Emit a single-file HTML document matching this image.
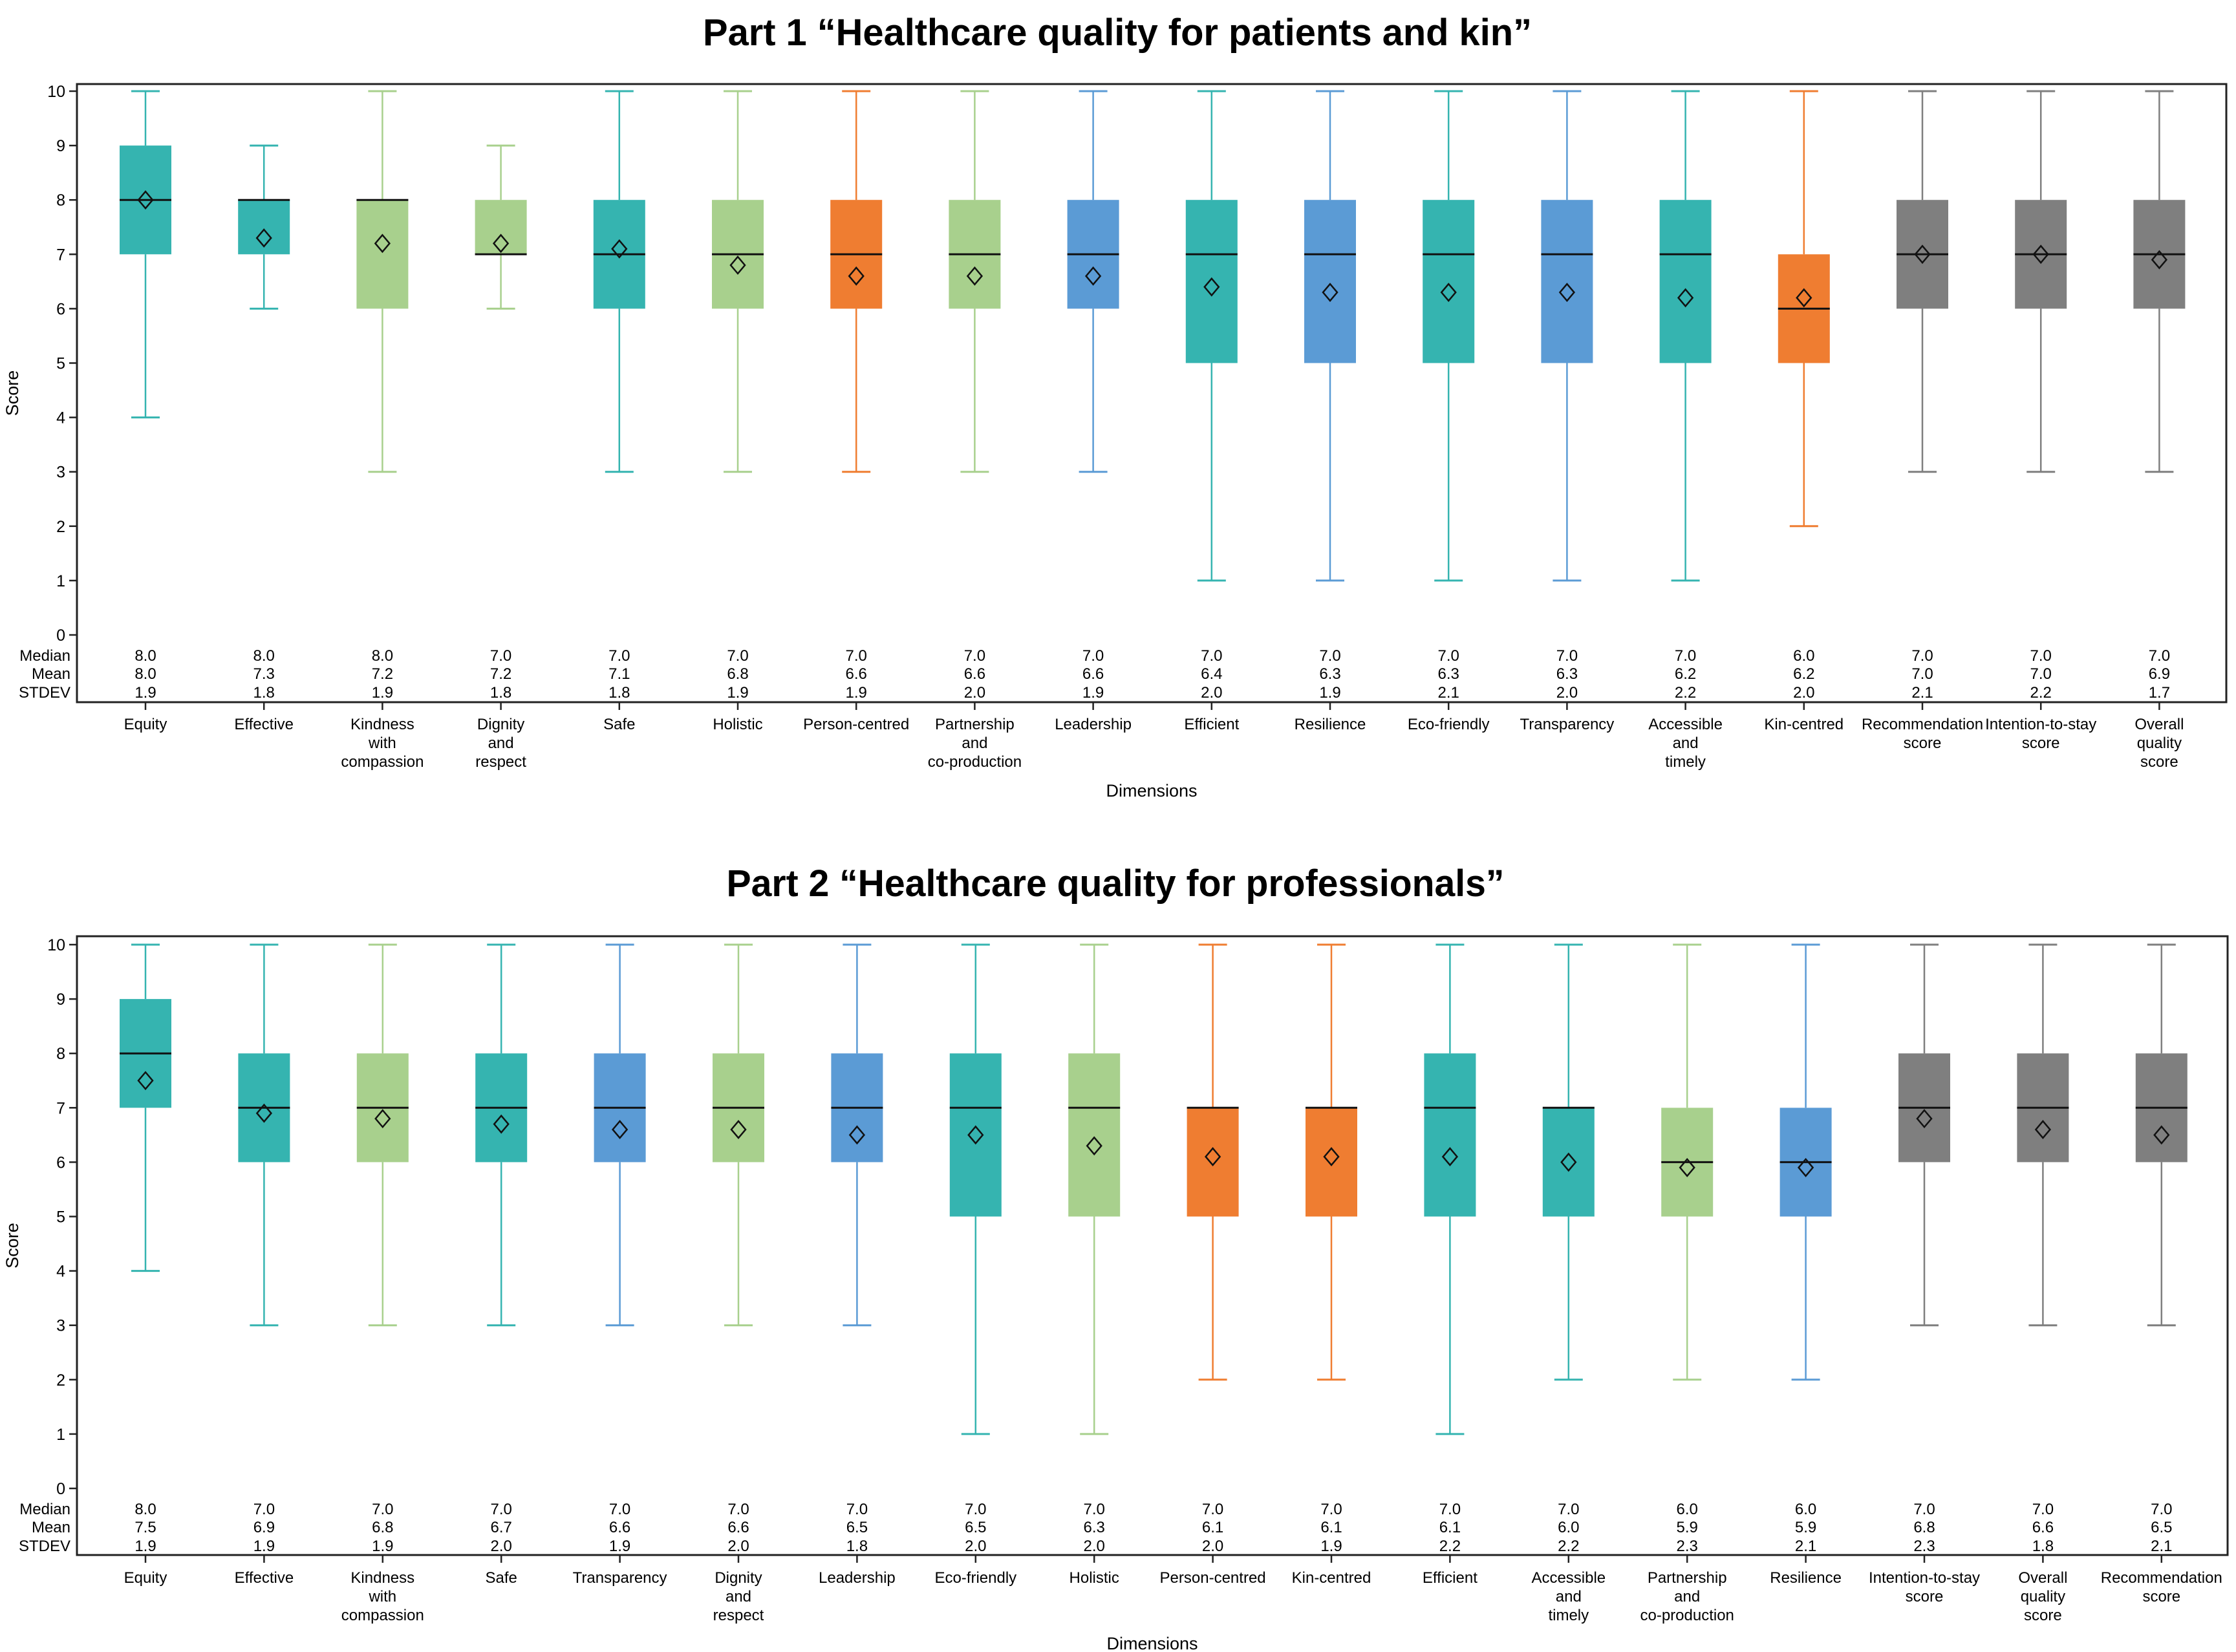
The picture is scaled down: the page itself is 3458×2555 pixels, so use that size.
<!DOCTYPE html>
<html><head><meta charset="utf-8">
<style>
html,body{margin:0;padding:0;background:#fff;}
svg{display:block;font-family:"Liberation Sans",Arial,sans-serif;}
</style></head>
<body>
<svg id="chart" width="3458" height="2555" viewBox="0 0 3458 2555">
<text x="1728" y="70" text-anchor="middle" font-size="58" font-weight="bold" textLength="1282" lengthAdjust="spacingAndGlyphs">Part 1 “Healthcare quality for patients and kin”</text>
<text x="1725" y="1386" text-anchor="middle" font-size="58" font-weight="bold" textLength="1203" lengthAdjust="spacingAndGlyphs">Part 2 “Healthcare quality for professionals”</text>
</svg>
<script>
// ---- Part 1 data ----
const cats1 = ["Equity","Effective","Kindness|with|compassion","Dignity|and|respect","Safe","Holistic","Person-centred","Partnership|and|co-production","Leadership","Efficient","Resilience","Eco-friendly","Transparency","Accessible|and|timely","Kin-centred","Recommendation|score","Intention-to-stay|score","Overall|quality|score"];
const colors1 = ["teal","teal","green","green","teal","green","orange","green","blue","teal","blue","teal","blue","teal","orange","gray","gray","gray"];
const min1 = [4,6,3,6,3,3,3,3,3,1,1,1,1,1,2,3,3,3];
const q1_1 = [7,7,6,7,6,6,6,6,6,5,5,5,5,5,5,6,6,6];
const med1 = [8,8,8,7,7,7,7,7,7,7,7,7,7,7,6,7,7,7];
const q3_1 = [9,8,8,8,8,8,8,8,8,8,8,8,8,8,7,8,8,8];
const max1 = [10,9,10,9,10,10,10,10,10,10,10,10,10,10,10,10,10,10];
const mean1 = [8.0,7.3,7.2,7.2,7.1,6.8,6.6,6.6,6.6,6.4,6.3,6.3,6.3,6.2,6.2,7.0,7.0,6.9];
const sd1 = [1.9,1.8,1.9,1.8,1.8,1.9,1.9,2.0,1.9,2.0,1.9,2.1,2.0,2.2,2.0,2.1,2.2,1.7];
// ---- Part 2 data ----
const cats2 = ["Equity","Effective","Kindness|with|compassion","Safe","Transparency","Dignity|and|respect","Leadership","Eco-friendly","Holistic","Person-centred","Kin-centred","Efficient","Accessible|and|timely","Partnership|and|co-production","Resilience","Intention-to-stay|score","Overall|quality|score","Recommendation|score"];
const colors2 = ["teal","teal","green","teal","blue","green","blue","teal","green","orange","orange","teal","teal","green","blue","gray","gray","gray"];
const min2 = [4,3,3,3,3,3,3,1,1,2,2,1,2,2,2,3,3,3];
const q1_2 = [7,6,6,6,6,6,6,5,5,5,5,5,5,5,5,6,6,6];
const med2 = [8,7,7,7,7,7,7,7,7,7,7,7,7,6,6,7,7,7];
const q3_2 = [9,8,8,8,8,8,8,8,8,7,7,8,7,7,7,8,8,8];
const max2 = [10,10,10,10,10,10,10,10,10,10,10,10,10,10,10,10,10,10];
const mean2 = [7.5,6.9,6.8,6.7,6.6,6.6,6.5,6.5,6.3,6.1,6.1,6.1,6.0,5.9,5.9,6.8,6.6,6.5];
const sd2 = [1.9,1.9,1.9,2.0,1.9,2.0,1.8,2.0,2.0,2.0,1.9,2.2,2.2,2.3,2.1,2.3,1.8,2.1];
const yTicks = [0,1,2,3,4,5,6,7,8,9,10];

const palette = {teal:"#35b4b0",green:"#a8d08d",orange:"#ef7d31",blue:"#5b9bd5",gray:"#7f7f7f"};
const NS = "http://www.w3.org/2000/svg";
const svg = document.getElementById("chart");
function mk(tag, attrs, parent){
  const e = document.createElementNS(NS, tag);
  for (const k in attrs) e.setAttribute(k, attrs[k]);
  (parent||svg).appendChild(e);
  return e;
}

function drawPanel(p, cats, colors, mn, q1, md, q3, mx, mean, sd){
  const g = mk("g", {});
  
  
  const y = v => p.y0 - (p.y0 - p.y10) * v / 10;
  const x = i => p.xFirst + i * p.step;
  // frame
  const fr = mk("rect", {x:p.left, y:p.top, width:p.right-p.left, height:p.bottom-p.top, fill:"none", stroke:"#222", "stroke-width":3}, g);
  
  
  // y ticks
  yTicks.forEach(v => {
    const l = mk("line", {x1:p.left-12, x2:p.left, y1:y(v), y2:y(v), stroke:"#222","stroke-width":2.5}, g);
    
    
    const t = mk("text", {x:p.left-18, y:y(v)+9, "text-anchor":"end", "font-size":25}, g);
    t.textContent = v;
    
    
  });
  // row labels
  ["Median","Mean","STDEV"].forEach((s,k) => {
    const t = mk("text", {x:p.left-10, y:p.rowY[k]+9, "text-anchor":"end", "font-size":24}, g);
    t.textContent = s;
    
    
  });
  const yt = mk("text", {x:0, y:0, "text-anchor":"middle", "font-size":27, transform:`translate(${p.scoreX},${(p.top+p.bottom)/2}) rotate(-90)`}, g);
  yt.textContent = "Score";
  
  
  const xt = mk("text", {x:(p.left+p.right)/2, y:p.dimY, "text-anchor":"middle", "font-size":27}, g);
  xt.textContent = "Dimensions";
  
  

  cats.forEach((c,i) => {
    const col = palette[colors[i]];
    const cx = x(i), bw = 80, cap = 44;
    const bg = mk("g", {}, g);
    
    
    mk("line", {x1:cx, x2:cx, y1:y(mx[i]), y2:y(q3[i]), stroke:col, "stroke-width":2.5}, bg);
    mk("line", {x1:cx, x2:cx, y1:y(q1[i]), y2:y(mn[i]), stroke:col, "stroke-width":2.5}, bg);
    mk("line", {x1:cx-cap/2, x2:cx+cap/2, y1:y(mx[i]), y2:y(mx[i]), stroke:col, "stroke-width":3}, bg);
    mk("line", {x1:cx-cap/2, x2:cx+cap/2, y1:y(mn[i]), y2:y(mn[i]), stroke:col, "stroke-width":3}, bg);
    mk("rect", {x:cx-bw/2, y:y(q3[i]), width:bw, height:y(q1[i])-y(q3[i]), fill:col}, bg);
    mk("line", {x1:cx-bw/2, x2:cx+bw/2, y1:y(md[i]), y2:y(md[i]), stroke:"#111", "stroke-width":3}, bg);
    const my = y(mean[i]);
    mk("polygon", {points:`${cx},${my-13} ${cx+11},${my} ${cx},${my+13} ${cx-11},${my}`, fill:"none", stroke:"#111", "stroke-width":2.5}, bg);
    // stats
    [md[i].toFixed(1), mean[i].toFixed(1), sd[i].toFixed(1)].forEach((s,k) => {
      const t = mk("text", {x:cx, y:p.rowY[k]+9, "text-anchor":"middle", "font-size":24}, g);
      t.textContent = s;
      
      
    });
    const tk = mk("line", {x1:cx, x2:cx, y1:p.bottom, y2:p.bottom+12, stroke:"#222","stroke-width":2.5}, g);
    
    
    const lt = mk("text", {x:cx, y:p.labY, "text-anchor":"middle", "font-size":24}, g);
    
    
    c.split("|").forEach((w,k) => {
      const ts = mk("tspan", {x:cx, dy:k===0?0:29}, lt);
      ts.textContent = w;
    });
  });
}

drawPanel({name:"part1-chart", left:119, right:3443, top:130, bottom:1086, y10:141, y0:982,
  xFirst:225, step:183.2, rowY:[1013,1041,1070], labY:1128, dimY:1232, scoreX:28},
  cats1, colors1, min1, q1_1, med1, q3_1, max1, mean1, sd1);
drawPanel({name:"part2-chart", left:119, right:3445, top:1448, bottom:2405, y10:1461, y0:2302,
  xFirst:225, step:183.4, rowY:[2333,2361,2390], labY:2448, dimY:2551, scoreX:28},
  cats2, colors2, min2, q1_2, med2, q3_2, max2, mean2, sd2);
</script>
</body></html>
